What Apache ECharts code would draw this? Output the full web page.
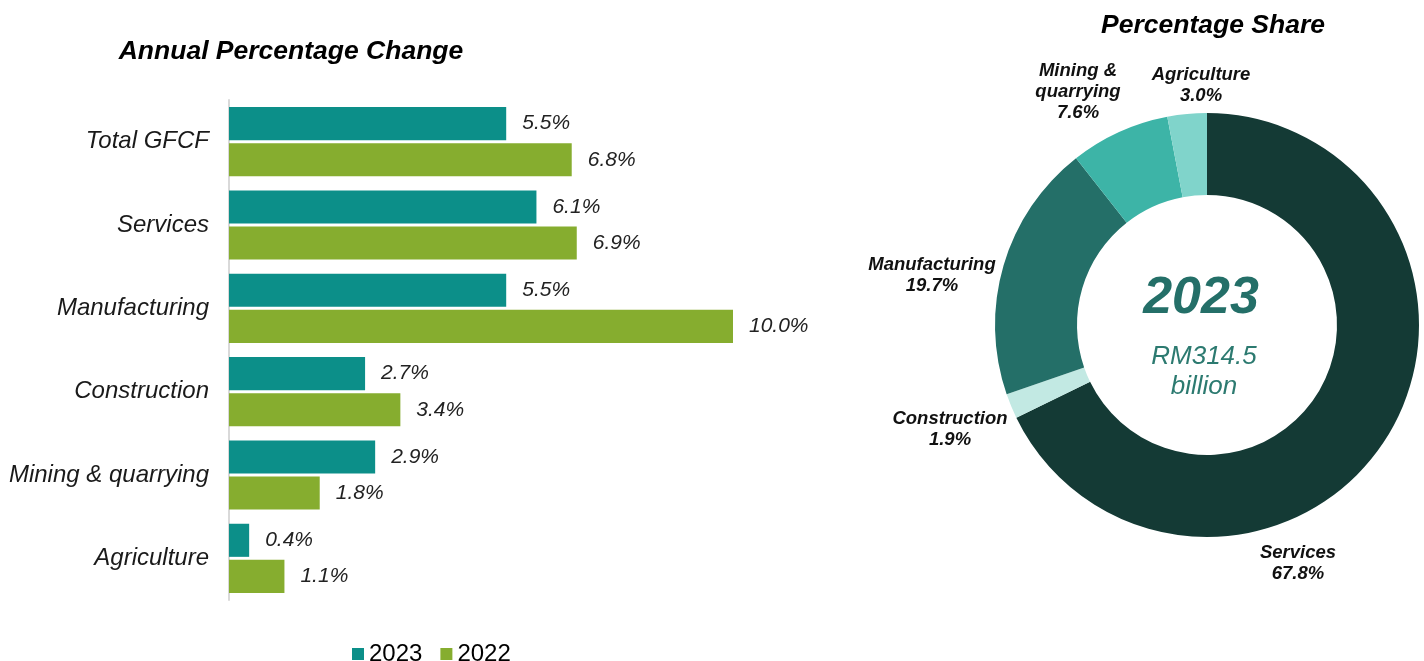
<!DOCTYPE html>
<html><head><meta charset="utf-8">
<script src="https://cdn.jsdelivr.net/npm/echarts@6/dist/echarts.min.js"></script>
<style>html,body{margin:0;padding:0;background:#fff}#c{width:1424px;height:661px}</style>
</head><body><div id="c"></div>
<script>
const categories = ['Total GFCF', 'Services', 'Manufacturing', 'Construction', 'Mining & quarrying', 'Agriculture'];
const values2023 = [5.5, 6.1, 5.5, 2.7, 2.9, 0.4];
const values2022 = [6.8, 6.9, 10.0, 3.4, 1.8, 1.1];
const shareNames = ['Services', 'Construction', 'Manufacturing', 'Mining &\nquarrying', 'Agriculture'];
const shareValues = [67.8, 1.9, 19.7, 7.6, 3.0];
const shareColors = ['#143a35', '#c2e9e3', '#246f68', '#3db4a7', '#80d4cb'];
const centerYear = '2023';
const centerTotal = 'RM314.5\nbillion';
// hand-placed label anchors (layout, not data)
const shareLabelAnchors = [[1298, 563], [950, 429], [932, 275], [1078, 92], [1201, 85]];

const FONT = '"Liberation Sans", Arial, sans-serif';
const chart = echarts.init(document.getElementById('c'));
chart.setOption({
  animation: false,
  textStyle: { fontFamily: FONT },
  title: [
    { text: 'Annual Percentage Change', left: 286, top: 33, textAlign: 'center',
      textStyle: { fontSize: 26.5, fontWeight: 'bold', fontStyle: 'italic', color: '#000', fontFamily: FONT } },
    { text: 'Percentage Share', left: 1208, top: 7, textAlign: 'center',
      textStyle: { fontSize: 26.5, fontWeight: 'bold', fontStyle: 'italic', color: '#000', fontFamily: FONT } },
    { text: centerYear, left: 1196, top: 268, textAlign: 'center',
      textStyle: { fontSize: 52, fontWeight: 'bold', fontStyle: 'italic', color: '#246f68', fontFamily: FONT } },
    { text: centerTotal, left: 1199, top: 337, textAlign: 'center',
      textStyle: { fontSize: 26, fontStyle: 'italic', fontWeight: 'normal', color: '#2c7a70', lineHeight: 30, fontFamily: FONT } }
  ],
  legend: {
    data: ['2023', '2022'], left: 347, top: 637, itemWidth: 12, itemHeight: 12, itemGap: 18,
    icon: 'rect',
    textStyle: { fontSize: 24, color: '#000', fontFamily: FONT }
  },
  grid: { left: 229, top: 100, width: 504, height: 500 },
  xAxis: { type: 'value', min: 0, max: 10, show: false },
  yAxis: {
    type: 'category', data: categories, inverse: true,
    axisLine: { show: true, lineStyle: { color: '#d9d9d9', width: 2 } },
    axisTick: { show: false },
    axisLabel: { fontSize: 24, fontStyle: 'italic', color: '#1a1a1a', margin: 20, fontFamily: FONT }
  },
  series: [
    { name: '2023', type: 'bar', data: values2023, itemStyle: { color: '#0c8f89' },
      barGap: '9%', barCategoryGap: '17%',
      label: { show: true, position: 'right', distance: 16, formatter: p => p.value.toFixed(1) + '%',
        fontSize: 21, fontStyle: 'italic', color: '#222', fontFamily: FONT } },
    { name: '2022', type: 'bar', data: values2022, itemStyle: { color: '#86ad2f' },
      barGap: '9%', barCategoryGap: '17%',
      label: { show: true, position: 'right', distance: 16, formatter: p => p.value.toFixed(1) + '%',
        fontSize: 21, fontStyle: 'italic', color: '#222', fontFamily: FONT } },
    { type: 'pie', center: [1207, 325], radius: [130, 212], startAngle: 90, clockwise: true,
      avoidLabelOverlap: false,
      data: shareNames.map((n, i) => ({ name: n, value: shareValues[i], itemStyle: { color: shareColors[i] } })),
      label: { show: true, position: 'outside', formatter: p => p.name + '\n' + p.value.toFixed(1) + '%',
        fontSize: 18.5, fontWeight: 'bold', fontStyle: 'italic', color: '#111', lineHeight: 21, align: 'center',
        verticalAlign: 'middle', fontFamily: FONT },
      labelLine: { show: false },
      labelLayout: p => ({ x: shareLabelAnchors[p.dataIndex][0], y: shareLabelAnchors[p.dataIndex][1],
        align: 'center', verticalAlign: 'middle' }),
      emphasis: { disabled: true }
    }
  ]
});
</script></body></html>
